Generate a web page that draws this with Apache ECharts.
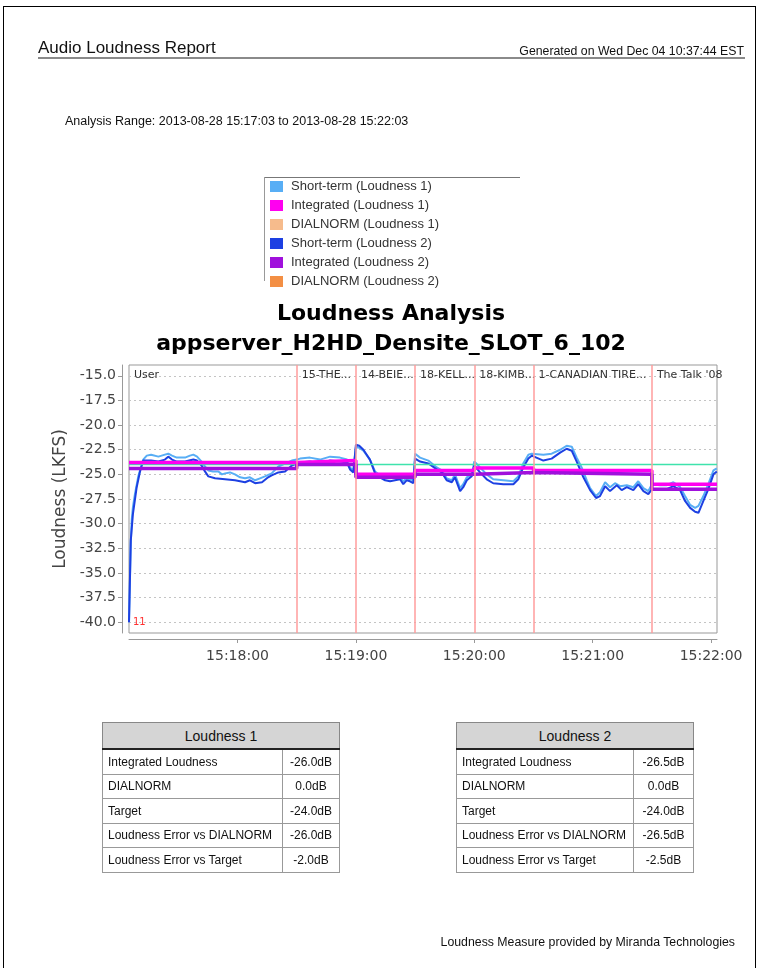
<!DOCTYPE html>
<html>
<head>
<meta charset="utf-8">
<title>Audio Loudness Report</title>
<script src="https://cdn.jsdelivr.net/npm/echarts@6/dist/echarts.min.js"></script>
<style>
body{margin:0;width:761px;height:968px;overflow:hidden;background:#fff;font-family:"Liberation Sans",Arial,sans-serif;color:#111;}
#page{position:absolute;left:3px;top:6px;width:753px;height:990px;border:1.5px solid #000;box-sizing:border-box;}
#chart{position:absolute;left:0;top:0;width:761px;height:968px;}
.txt{position:absolute;line-height:1;white-space:nowrap;}
#rule{position:absolute;left:38px;top:57px;width:707px;height:0;border-top:2px solid #8a8a8a;}
table.res{position:absolute;top:722px;border-collapse:collapse;table-layout:fixed;font-size:12px;color:#111;}
table.res th{background:#d5d5d5;font-weight:normal;font-size:14px;height:23px;border:1px solid #888;border-bottom:2px solid #222;}
table.res td{height:23.5px;border:1px solid #999;padding:0 5px;white-space:nowrap;overflow:hidden;}
table.res td.v{text-align:center;padding:0 2px;}
</style>
</head>
<body>
<div id="chart"></div>
<div id="page"></div>
<div class="txt" style="left:38px;top:39px;font-size:17px;">Audio Loudness Report</div>
<div class="txt" style="right:17px;top:45px;font-size:12.3px;">Generated on Wed Dec 04 10:37:44 EST</div>
<div id="rule"></div>
<div class="txt" style="left:65px;top:115px;font-size:12.5px;">Analysis Range: 2013-08-28 15:17:03 to 2013-08-28 15:22:03</div>

<table class="res" style="left:102px;width:237px;">
  <colgroup><col style="width:180px"><col style="width:57px"></colgroup>
  <tr><th colspan="2">Loudness 1</th></tr>
  <tr><td>Integrated Loudness</td><td class="v">-26.0dB</td></tr>
  <tr><td>DIALNORM</td><td class="v">0.0dB</td></tr>
  <tr><td>Target</td><td class="v">-24.0dB</td></tr>
  <tr><td>Loudness Error vs DIALNORM</td><td class="v">-26.0dB</td></tr>
  <tr><td>Loudness Error vs Target</td><td class="v">-2.0dB</td></tr>
</table>
<table class="res" style="left:456px;width:237px;">
  <colgroup><col style="width:177px"><col style="width:60px"></colgroup>
  <tr><th colspan="2">Loudness 2</th></tr>
  <tr><td>Integrated Loudness</td><td class="v">-26.5dB</td></tr>
  <tr><td>DIALNORM</td><td class="v">0.0dB</td></tr>
  <tr><td>Target</td><td class="v">-24.0dB</td></tr>
  <tr><td>Loudness Error vs DIALNORM</td><td class="v">-26.5dB</td></tr>
  <tr><td>Loudness Error vs Target</td><td class="v">-2.5dB</td></tr>
</table>

<div class="txt" style="right:26px;top:936px;font-size:12.3px;">Loudness Measure provided by Miranda Technologies</div>

<script>
// 响度曲线 — 时间为 15:17:00 之后的秒数
var st1Time = [5,5.9,6.4,7,8,9.7,12.2,14,16.2,19.9,23.2,24.9,26.8,29.2,33.4,35.9,37.6,39.5,41.8,43.5,45.2,47.6,50.3,52.1,53.7,56.2,58.7,61.3,63.8,66.3,68.9,71.4,73.9,77.3,80.7,84.1,87.5,90,
  91.7,96.7,101.8,106.9,111.9,115.5,117,118.7,119.5,
  120,121.7,123.8,127.1,129.7,132.2,134.8,137.3,139.8,142.4,144,145.7,147.4,149.1,
  150,152.5,156.7,161,163.5,166,168.6,170.2,172.8,174.4,176.2,178.7,
  180,182.9,186.3,189.6,194.7,199.8,202.3,204.8,207.4,209.1,
  210,215,219.2,223.5,226.8,229.4,231.9,234.4,237,238.7,241.7,243.7,246.3,248.8,251.3,253.9,257.3,260.6,263.1,265.7,268.2,
  270,274.1,277.5,280.9,284.3,286.8,289.4,291.9,293.6,296.1,298.6,301.2,302.9];
var st1Loud = [-40.0,-32.0,-29.6,-28.3,-27.0,-25.2,-23.5,-23.1,-23.0,-23.2,-23.0,-22.9,-23.1,-23.3,-23.3,-23.1,-23.0,-23.2,-23.7,-24.2,-24.6,-24.7,-24.7,-25.0,-24.9,-24.8,-25.0,-25.3,-25.4,-25.3,-25.6,-25.4,-25.2,-24.9,-24.2,-23.9,-23.6,-23.5,
  -23.4,-23.3,-23.5,-23.2,-23.3,-23.5,-24.3,-24.6,-24.5,
  -22.2,-22.3,-22.6,-23.5,-24.7,-25.1,-25.4,-25.4,-25.3,-25.3,-25.7,-25.4,-25.5,-25.6,
  -22.9,-23.3,-23.6,-24.3,-24.6,-25.4,-25.6,-25.0,-26.4,-26.0,-25.3,-25.0,
  -23.7,-24.3,-25.0,-25.5,-25.6,-25.7,-25.2,-23.9,-23.0,-22.9,
  -22.9,-23.0,-22.9,-22.5,-22.1,-22.2,-23.3,-24.3,-25.6,-26.4,-27.2,-26.8,-25.8,-26.3,-25.9,-26.2,-26.1,-26.3,-25.7,-26.4,-26.7,
  -26.0,-26.1,-26.1,-25.8,-26.3,-27.2,-28.1,-28.4,-28.2,-27.2,-26.0,-24.6,-24.4];

var st2Time = [5,5.9,7,8.9,10.6,12.2,13.1,16.2,19.9,23.2,24.9,26.8,29.2,33.4,37.6,39.5,41.8,43.5,45.2,48.6,53.7,58.7,61.3,63.8,66.3,68.9,72.4,75.5,77.3,80.7,84.1,87.5,90,
  91.7,96.7,101.8,106.9,111.9,115.5,117,118.7,119.5,
  120,121.7,123.8,127.1,129.7,132.2,134.8,137.3,139.8,142.4,144,145.7,147.4,149.1,
  150,152.5,156.7,161,163.5,166,168.6,170.2,172.8,174.4,176.2,178.7,
  180,182.9,186.3,189.6,194.7,199.8,202.3,204.8,207.4,209.1,
  210,215,219.2,223.5,226.8,229.4,231.9,235.3,238.7,241.7,243.7,246.3,248.8,252.2,254.7,257.3,260.6,263.1,265.7,268.2,
  270,274.1,277.5,280.9,284.3,286.8,289.4,291.9,293.6,296.1,298.6,301.2,302.9];
var st2Loud = [-40.0,-31.7,-29.0,-26.3,-24.7,-23.6,-23.4,-23.6,-23.7,-23.5,-23.2,-23.5,-23.7,-23.7,-23.5,-23.6,-24.1,-24.7,-25.2,-25.4,-25.5,-25.6,-25.7,-25.8,-25.6,-25.9,-25.8,-25.3,-25.1,-24.8,-24.7,-24.1,-23.9,
  -23.8,-23.7,-23.9,-23.6,-23.7,-23.8,-24.5,-24.8,-24.9,
  -22.0,-22.1,-22.5,-23.5,-24.9,-25.3,-25.6,-25.7,-25.6,-25.5,-26.0,-25.6,-25.7,-25.9,
  -23.4,-23.7,-23.9,-24.5,-24.8,-25.6,-25.8,-25.3,-26.7,-26.3,-25.6,-25.2,
  -24.1,-24.8,-25.5,-25.9,-26.0,-26.0,-25.5,-24.3,-23.4,-23.1,
  -23.3,-23.6,-23.4,-22.8,-22.4,-22.6,-23.7,-25.3,-26.6,-27.4,-27.2,-26.2,-26.7,-26.1,-26.6,-26.3,-26.6,-26.0,-26.7,-27.0,
  -26.5,-26.5,-26.5,-26.2,-26.6,-27.7,-28.4,-28.8,-28.9,-27.7,-26.5,-25.0,-24.7];

// 节目分段
var segStart = [5, 90, 120, 150, 180, 210, 270];
var segNames = ['User', '15-THE...', '14-BEIE...', '18-KELL...', '18-KIMB...', '1-CANADIAN TIRE...', "The Talk '08"];
var timeEnd = 303;
var integ1 = [-23.8, -23.6, -25.0, -24.6, -24.35, -24.6, -26.0];
var integ2 = [-24.4, -24.0, -25.3, -25.0, -24.8, -25.0, -26.5];
var dialnorm1 = 0.0;
var dialnorm2 = 0.0;
var target = -24.0;
var cornerNote = '11';

// 刻度
var yTicks = [-40, -37.5, -35, -32.5, -30, -27.5, -25, -22.5, -20, -17.5, -15];
var xTicks = [60, 120, 180, 240, 300];

var names = ['Short-term (Loudness 1)', 'Integrated (Loudness 1)', 'DIALNORM (Loudness 1)',
             'Short-term (Loudness 2)', 'Integrated (Loudness 2)', 'DIALNORM (Loudness 2)'];

function zip(ts, vs) { return ts.map(function (t, i) { return [t, vs[i]]; }); }
function steps(vals) {
    var d = segStart.map(function (t, i) { return [t, vals[i]]; });
    d.push([timeEnd, vals[vals.length - 1]]);
    return d;
}
function pad(n) { return (n < 10 ? '0' : '') + n; }

var myChart = echarts.init(document.getElementById('chart'));

var option = {
    animation: false,
    textStyle: { fontFamily: 'DejaVu Sans' },
    title: {
        text: 'Loudness Analysis\nappserver_H2HD_Densite_SLOT_6_102',
        left: 391,
        top: 299,
        padding: 0,
        textAlign: 'center',
        textStyle: { fontFamily: 'DejaVu Sans', fontSize: 22, fontWeight: 'bold', color: '#000', lineHeight: 30 }
    },
    legend: {
        orient: 'vertical',
        left: 270,
        top: 180,
        padding: 0,
        itemWidth: 13,
        itemHeight: 11,
        itemGap: 6,
        icon: 'rect',
        selectedMode: false,
        data: names,
        textStyle: { fontFamily: 'Liberation Sans', fontSize: 13, color: '#333', lineHeight: 11, padding: [0, 0, 0, 3] }
    },
    graphic: [
        { type: 'line', shape: { x1: 264, y1: 177.5, x2: 520, y2: 177.5 }, style: { stroke: '#777', lineWidth: 1 } },
        { type: 'line', shape: { x1: 264.5, y1: 177, x2: 264.5, y2: 281 }, style: { stroke: '#999', lineWidth: 1 } }
    ],
    grid: {
        show: true,
        left: 129,
        top: 365,
        width: 588,
        height: 268,
        backgroundColor: '#fff',
        borderColor: '#999',
        borderWidth: 1
    },
    xAxis: {
        type: 'value',
        min: 5,
        max: timeEnd,
        offset: 6,
        axisLine: { show: true, lineStyle: { color: '#999', width: 1 } },
        axisTick: { show: true, length: 4, customValues: xTicks, lineStyle: { color: '#999' } },
        axisLabel: {
            customValues: xTicks,
            margin: 10,
            color: '#444',
            fontSize: 14,
            formatter: function (v) { return '15:' + pad(17 + Math.floor(v / 60)) + ':' + pad(v % 60); }
        },
        splitLine: { show: false }
    },
    yAxis: {
        type: 'value',
        min: -41.1,
        max: -13.9,
        offset: 7,
        name: 'Loudness (LKFS)',
        nameLocation: 'middle',
        nameGap: 45,
        nameTextStyle: { fontSize: 17, color: '#444' },
        axisLine: { show: true, lineStyle: { color: '#999', width: 1 } },
        axisTick: { show: true, length: 4, customValues: yTicks, lineStyle: { color: '#999' } },
        axisLabel: {
            customValues: yTicks,
            margin: 6,
            color: '#444',
            fontSize: 14,
            formatter: function (v) { return v.toFixed(1); }
        },
        splitLine: { show: true, lineStyle: { color: '#c4c4c4', width: 1, type: [2, 3] } }
    },
    series: [
        {
            name: names[0], type: 'line', data: zip(st1Time, st1Loud), showSymbol: false, clip: true,
            itemStyle: { color: '#58aef5' }, lineStyle: { color: '#58aef5', width: 2 }
        },
        {
            name: names[3], type: 'line', data: zip(st2Time, st2Loud), showSymbol: false, clip: true,
            itemStyle: { color: '#1d40e2' }, lineStyle: { color: '#1d40e2', width: 2 }
        },
        {
            name: 'Target', type: 'line', data: [[5, target], [timeEnd, target]], showSymbol: false, clip: true,
            lineStyle: { color: '#3fe3ac', width: 1.5 },
            markLine: {
                silent: true, symbol: 'none', label: { show: false },
                lineStyle: { color: '#ff9c9c', width: 1.5, type: 'solid' },
                data: segStart.slice(1).map(function (t) { return { xAxis: t }; })
            },
            markArea: {
                silent: true,
                itemStyle: { color: 'rgba(0,0,0,0)' },
                label: { show: true, position: 'insideTopLeft', distance: 5, fontSize: 11, color: '#333' },
                data: segStart.map(function (t, i) {
                    return [{ xAxis: t, name: segNames[i] }, { xAxis: i + 1 < segStart.length ? segStart[i + 1] : timeEnd }];
                })
            },
            markPoint: {
                silent: true, symbol: 'circle', symbolSize: 0,
                label: { show: true, position: 'right', distance: 4, color: '#ff3030', fontSize: 10, formatter: cornerNote },
                data: [{ coord: [5, -40] }]
            }
        },
        {
            name: names[1], type: 'line', step: 'end', data: steps(integ1), showSymbol: false, clip: true,
            itemStyle: { color: '#ff00f0' }, lineStyle: { color: '#ff00f0', width: 3.5 }
        },
        {
            name: names[4], type: 'line', step: 'end', data: steps(integ2), showSymbol: false, clip: true,
            itemStyle: { color: '#a010dc' }, lineStyle: { color: '#a010dc', width: 3.5 }
        },
        {
            name: names[2], type: 'line', data: [[5, dialnorm1], [timeEnd, dialnorm1]], showSymbol: false, clip: true,
            itemStyle: { color: '#f6bb8c' }, lineStyle: { color: '#f6bb8c', width: 2 }
        },
        {
            name: names[5], type: 'line', data: [[5, dialnorm2], [timeEnd, dialnorm2]], showSymbol: false, clip: true,
            itemStyle: { color: '#f38f44' }, lineStyle: { color: '#f38f44', width: 2 }
        }
    ]
};

myChart.setOption(option);
</script>
</body>
</html>
